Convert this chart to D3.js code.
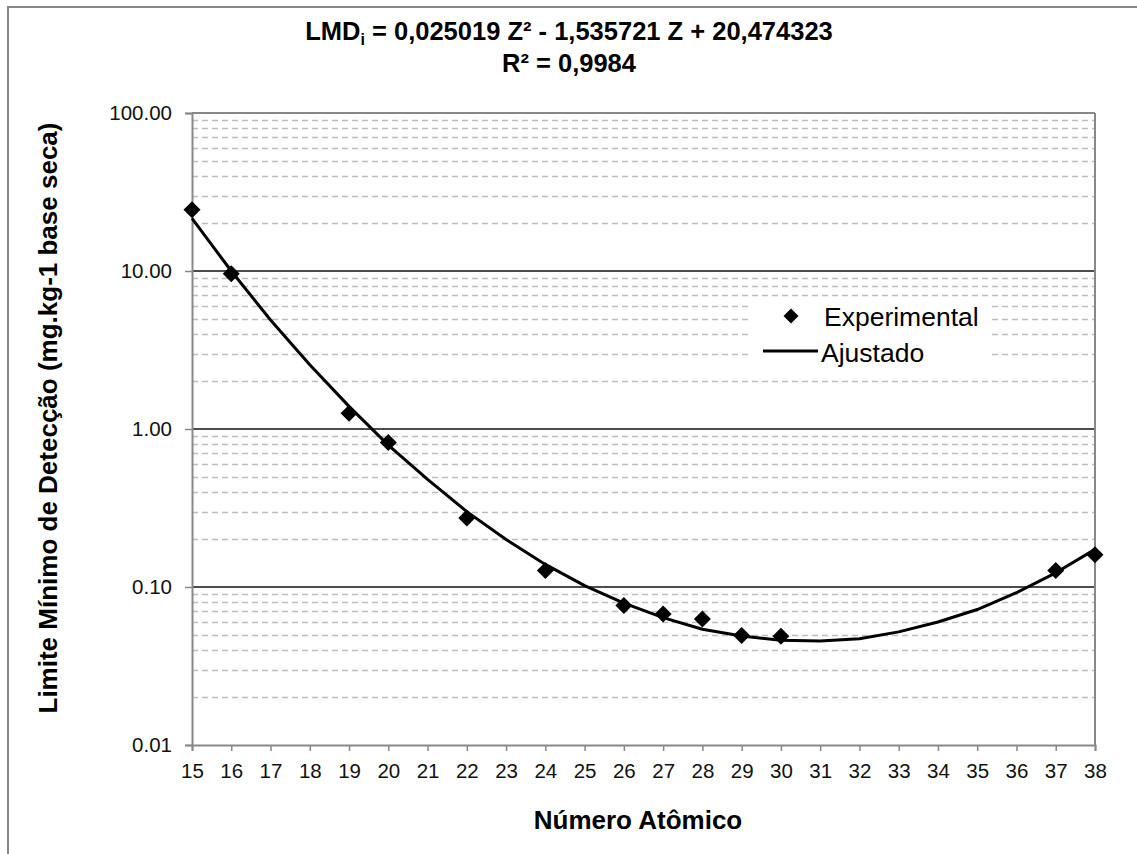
<!DOCTYPE html>
<html>
<head>
<meta charset="utf-8">
<script src="https://cdn.jsdelivr.net/npm/d3@7"></script>
<style>
  body { margin: 0; background: #fff; }
  text { font-family: "Liberation Sans", Arial, sans-serif; }
</style>
</head>
<body>
<svg id="chart" width="1137" height="854"></svg>
<script>
// ---- Data ----
const xTicks = d3.range(15, 39); // 15..38
const expZ   = [15, 16, 19, 20, 22, 24, 26, 27, 28, 29, 30, 37, 38];
const expLMD = [24.4, 9.6, 1.26, 0.82, 0.273, 0.127, 0.0765, 0.0675, 0.0627, 0.0494, 0.0487, 0.127, 0.160];
const fitZ   = [15, 16, 17, 18, 19, 20, 21, 22, 23, 24, 25, 26, 27, 28, 29, 30, 31, 32, 33, 34, 35, 36, 37, 38];
const fitLMD = [21.5, 10.0, 4.9, 2.55, 1.39, 0.79, 0.48, 0.30, 0.20, 0.139, 0.102, 0.079, 0.064, 0.054, 0.049, 0.046, 0.0455, 0.047, 0.052, 0.060, 0.072, 0.092, 0.123, 0.173];
const yMajor = [0.01, 0.1, 1, 10, 100];
const yMajorLabels = ["0.01", "0.10", "1.00", "10.00", "100.00"];
const titleLine2 = "R² = 0,9984";
const xTitle = "Número Atômico";
const yTitle = "Limite Mínimo de Detecção (mg.kg-1 base seca)";
const legendLabels = ["Experimental", "Ajustado"];

// ---- Layout ----
const svg = d3.select("#chart");
const L = 192, R = 1095, T = 113, B = 745;
const x = d3.scaleLinear().domain([15, 38]).range([L, R]);
const y = d3.scaleLog().domain([0.01, 100]).range([B, T]);

// outer border
svg.append("rect").attr("x", 8).attr("y", 7).attr("width", 1140).attr("height", 860)
  .attr("fill", "#fff").attr("stroke", "#888").attr("stroke-width", 2);

// minor gridlines
const minor = [];
[0.01, 0.1, 1, 10].forEach(d => { for (let k = 2; k <= 9; k++) minor.push(d * k); });
svg.append("g").selectAll("line").data(minor).join("line")
  .attr("x1", L).attr("x2", R)
  .attr("y1", d => Math.round(y(d)) + 0.5).attr("y2", d => Math.round(y(d)) + 0.5)
  .attr("stroke", "#bdbdbd").attr("stroke-width", 1.6).attr("stroke-dasharray", "6,4");

// major gridlines
svg.append("g").selectAll("line").data([0.1, 1, 10]).join("line")
  .attr("x1", L).attr("x2", R)
  .attr("y1", d => y(d)).attr("y2", d => y(d))
  .attr("stroke", "#111").attr("stroke-width", 1.6);

// plot border (top/right)
svg.append("line").attr("x1", L).attr("x2", R).attr("y1", T).attr("y2", T).attr("stroke", "#888").attr("stroke-width", 2);
svg.append("line").attr("x1", R).attr("x2", R).attr("y1", T).attr("y2", B).attr("stroke", "#888").attr("stroke-width", 2);

// axes
const xAxis = svg.append("g").attr("transform", `translate(0,${B})`)
  .call(d3.axisBottom(x).tickValues(xTicks).tickFormat(d3.format("d")).tickSize(6).tickPadding(12));
const yAxis = svg.append("g").attr("transform", `translate(${L},0)`)
  .call(d3.axisLeft(y).tickValues(yMajor).tickFormat((d, i) => yMajorLabels[i]).tickSize(7).tickPadding(13));
[xAxis, yAxis].forEach(g => {
  g.select(".domain").attr("stroke", "#888").attr("stroke-width", 2);
  g.selectAll(".tick line").attr("stroke", "#888").attr("stroke-width", 1.5);
  g.selectAll(".tick text").attr("font-size", 20.5).attr("fill", "#111")
    .style("font-family", "'Liberation Sans', Arial, sans-serif");
});

// fitted line
const line = d3.line().x((d, i) => x(fitZ[i])).y(d => y(d));
svg.append("path").datum(fitLMD).attr("d", line)
  .attr("fill", "none").attr("stroke", "#000").attr("stroke-width", 3).attr("stroke-linejoin", "round");

// experimental diamonds
const diamond = (cx, cy, r) => `M${cx},${cy - r}L${cx + r},${cy}L${cx},${cy + r}L${cx - r},${cy}Z`;
svg.append("g").selectAll("path").data(expLMD).join("path")
  .attr("d", (d, i) => diamond(x(expZ[i]), y(d), 8.5)).attr("fill", "#000");

// legend
const lg = svg.append("g");
lg.append("rect").attr("x", 752).attr("y", 300).attr("width", 240).attr("height", 72).attr("fill", "#fff");
lg.append("path").attr("d", diamond(791, 316, 7.5)).attr("fill", "#000");
lg.append("text").attr("x", 824).attr("y", 326).attr("font-size", 26.5).text(legendLabels[0]);
lg.append("line").attr("x1", 763).attr("x2", 818).attr("y1", 351).attr("y2", 351).attr("stroke", "#000").attr("stroke-width", 3);
lg.append("text").attr("x", 821).attr("y", 362).attr("font-size", 26.5).text(legendLabels[1]);

// title
const t1 = svg.append("text").attr("x", 569).attr("y", 40).attr("text-anchor", "middle")
  .attr("font-size", 25.5).attr("font-weight", "bold");
t1.append("tspan").text("LMD");
t1.append("tspan").attr("font-size", 16).attr("dy", 5).text("i");
t1.append("tspan").attr("dy", -5).text(" = 0,025019 Z² - 1,535721 Z + 20,474323");
svg.append("text").attr("x", 569).attr("y", 72).attr("text-anchor", "middle")
  .attr("font-size", 25.5).attr("font-weight", "bold").text(titleLine2);

// axis titles
svg.append("text").attr("x", 638).attr("y", 829).attr("text-anchor", "middle")
  .attr("font-size", 26).attr("font-weight", "bold").text(xTitle);
svg.append("text").attr("transform", "translate(57,418) rotate(-90)").attr("text-anchor", "middle")
  .attr("font-size", 26).attr("font-weight", "bold").text(yTitle);
</script>
</body>
</html>
